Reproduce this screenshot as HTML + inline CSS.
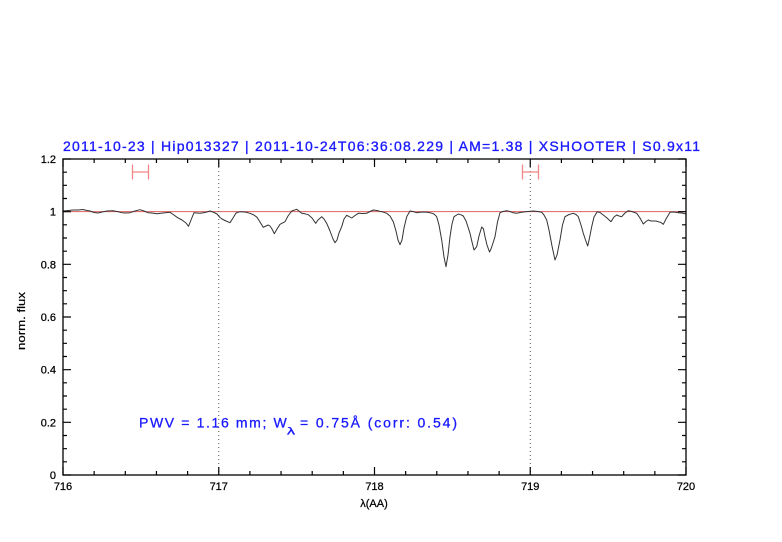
<!DOCTYPE html>
<html><head><meta charset="utf-8"><style>
html,body{margin:0;padding:0;background:#fff;}
svg{display:block;}
text{font-family:"Liberation Sans",sans-serif;}
</style></head><body>
<svg width="782" height="542" viewBox="0 0 782 542" xmlns="http://www.w3.org/2000/svg">
<rect width="782" height="542" fill="#fff"/>
<!-- title -->
<text x="63" y="151" font-size="14" fill="#1a1aff" stroke="#1a1aff" stroke-width="0.35" textLength="637" lengthAdjust="spacing">2011-10-23 | Hip013327 | 2011-10-24T06:36:08.229 | AM=1.38 | XSHOOTER | S0.9x11</text>

<!-- reference line at 1 -->
<line x1="63" y1="211.67" x2="686" y2="211.67" stroke="#e06060" stroke-width="1"/>

<!-- dotted verticals -->
<line x1="218.75" y1="159" x2="218.75" y2="475" stroke="#555" stroke-width="1" stroke-dasharray="1,3"/>
<line x1="530.25" y1="159" x2="530.25" y2="475" stroke="#555" stroke-width="1" stroke-dasharray="1,3"/>

<!-- error bars -->
<g stroke="#f08888" stroke-width="1.3" fill="none">
<path d="M132.5,172 H148.5 M132.5,164.5 V179.5 M148.5,164.5 V179.5"/>
<path d="M522.5,172 H538.5 M522.5,164.5 V179.5 M538.5,164.5 V179.5"/>
</g>

<!-- spectrum -->
<polyline fill="none" stroke="#333" stroke-width="1" stroke-linejoin="round" points="
63,211 68,210.5 73,210 78,210 83,209.5 87,210.5 90,211 94,212.5 98,213 102,212 107,211 113,210.7 117,211.5 122,212.7 126,213 130,212.7 135,211 140,209.7 144,211 148,212.7 152,213 157,213.7 163,213 170,212.3 174,215 177,217.3 182,220 186,223 188.5,226.3 191,220 194,212.7 200,213.3 205,212.5 210,211 213,212 217,214 220,217.5 222,219 226,221 230,222.7 233,218 236,213 240,211.7 245,212 250,213.3 254,215 257,217.3 260,222 263.3,227.3 266,226 268.3,225 270,226 272,229 274.3,233.7 277,229 280,224.3 285,221.7 288,216 291.7,211 296.7,209.3 299,211 301.7,213.3 305,213.8 308.3,214.7 312,218 315.7,223.3 318,220 321.7,216.7 324,219 326.7,223.3 330,231 333,239 335,242.7 337,240 339,233 341.7,226.7 344,219 346.7,215.3 349,216.5 351.7,218 355,215.5 358.3,213.3 363,213.5 366.7,213.3 370,211.5 373.3,210 377,210.5 380,211.3 383,212 386.7,213.3 390,216 393.3,221.7 396,231 398,240 400,244.7 402,240 404,228 406.7,216.7 410,211 413,211.5 416.7,212.7 420,212.3 423.3,212 427,212.3 430,212.7 434,214 436.7,216.7 439,225 441.7,240 444,257 446,266.7 448,255 450,236.7 452,224 454,216.7 458.3,214 461,214.8 463.3,216 466,221 468,227 470,233.3 472,242 474,250 476.7,246.7 479,236 481.7,227 483.5,229 485,236.7 487,245 489.5,252 491,249 493,243 495,236.7 497.5,222 500,212.7 503,211.5 506.7,210.7 510,211.5 513,212.7 516.7,213.3 520,212.5 523.3,212 528,211.5 533.3,211 538,211.5 541.7,212.3 544,215 546.7,220 549,230 552,246 555,260 557,255 560,240 562.5,225 565,216.7 569,214.5 573.3,213.3 576,214.5 578.3,216.7 581,225 583.3,233.3 585.5,240 587.7,246 589.5,238 591.7,226.7 594,217 597.3,211.7 600,212.5 603.3,215 607,218 611,221.7 614,217 616.7,215 619,216 621.7,216.7 625,213 628.3,210.7 632,211.5 636.7,213.3 640,218 643.3,224 646,221.5 648.3,220 651,221 653.3,221 656,221 658.3,221.7 661,222.5 663.3,224.3 666,219 670,212.3 674,212 678.3,212.7 682,213 686,214"/>

<!-- frame -->
<rect x="63" y="159" width="623" height="316" fill="none" stroke="#000" stroke-width="1.3"/>

<!-- ticks -->
<g stroke="#000" stroke-width="1.2" fill="none">
<path d="M63,475v-8 M218.75,475v-8 M374.5,475v-8 M530.25,475v-8 M686,475v-8
M63,159v8 M218.75,159v8 M374.5,159v8 M530.25,159v8 M686,159v8"/>
<path d="M94.15,475v-4 M125.3,475v-4 M156.45,475v-4 M187.6,475v-4 M249.9,475v-4 M281.05,475v-4 M312.2,475v-4 M343.35,475v-4 M405.65,475v-4 M436.8,475v-4 M467.95,475v-4 M499.1,475v-4 M561.4,475v-4 M592.55,475v-4 M623.7,475v-4 M654.85,475v-4
M94.15,159v4 M125.3,159v4 M156.45,159v4 M187.6,159v4 M249.9,159v4 M281.05,159v4 M312.2,159v4 M343.35,159v4 M405.65,159v4 M436.8,159v4 M467.95,159v4 M499.1,159v4 M561.4,159v4 M592.55,159v4 M623.7,159v4 M654.85,159v4"/>
<path d="M63,475h8 M63,422.33h8 M63,369.67h8 M63,317h8 M63,264.33h8 M63,211.67h8 M63,159h8
M686,475h-8 M686,422.33h-8 M686,369.67h-8 M686,317h-8 M686,264.33h-8 M686,211.67h-8 M686,159h-8"/>
<path d="M63,461.83h4 M63,448.67h4 M63,435.5h4 M63,409.17h4 M63,396h4 M63,382.83h4 M63,356.5h4 M63,343.33h4 M63,330.17h4 M63,303.83h4 M63,290.67h4 M63,277.5h4 M63,251.17h4 M63,238h4 M63,224.83h4 M63,198.5h4 M63,185.33h4 M63,172.17h4
M686,461.83h-4 M686,448.67h-4 M686,435.5h-4 M686,409.17h-4 M686,396h-4 M686,382.83h-4 M686,356.5h-4 M686,343.33h-4 M686,330.17h-4 M686,303.83h-4 M686,290.67h-4 M686,277.5h-4 M686,251.17h-4 M686,238h-4 M686,224.83h-4 M686,198.5h-4 M686,185.33h-4 M686,172.17h-4"/>
</g>

<!-- y tick labels -->
<g font-size="11" fill="#000" stroke="#000" stroke-width="0.25" text-anchor="end">
<text x="56" y="163">1.2</text>
<text x="56" y="215.7">1</text>
<text x="56" y="268.3">0.8</text>
<text x="56" y="321">0.6</text>
<text x="56" y="373.7">0.4</text>
<text x="56" y="426.3">0.2</text>
<text x="56" y="479">0</text>
</g>

<!-- x tick labels -->
<g font-size="11" fill="#000" stroke="#000" stroke-width="0.25" text-anchor="middle">
<text x="63" y="490">716</text>
<text x="218.75" y="490">717</text>
<text x="374.5" y="490">718</text>
<text x="530.25" y="490">719</text>
<text x="686" y="490">720</text>
</g>

<!-- axis labels -->
<text x="374" y="507" font-size="11" fill="#000" stroke="#000" stroke-width="0.25" text-anchor="middle">λ(AA)</text>
<text transform="translate(25,321) rotate(-90)" font-size="11" fill="#000" stroke="#000" stroke-width="0.2" text-anchor="middle" textLength="58" lengthAdjust="spacingAndGlyphs">norm. flux</text>

<!-- annotation -->
<g font-size="14" fill="#1a1aff" stroke="#1a1aff" stroke-width="0.3">
<text x="139" y="427.5" textLength="147.7" lengthAdjust="spacing">PWV = 1.16 mm; W</text>
<text x="287" y="434.5" font-size="10" textLength="8" lengthAdjust="spacingAndGlyphs">λ</text>
<text x="300" y="427.5" textLength="157" lengthAdjust="spacing">= 0.75Å (corr: 0.54)</text>
</g>
</svg>
</body></html>
